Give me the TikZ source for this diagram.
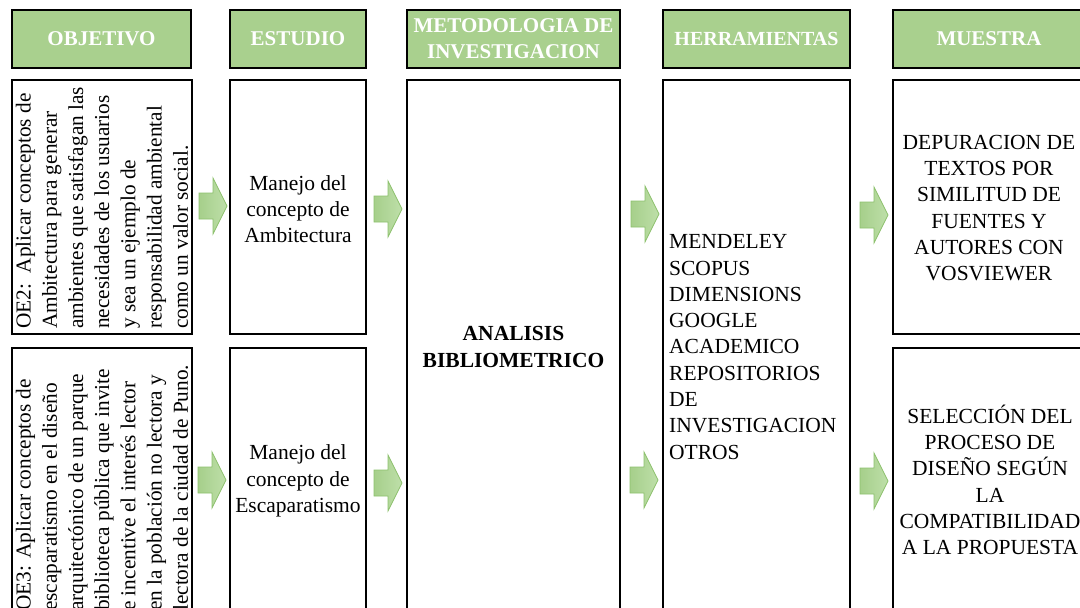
\documentclass[tikz,border=0pt]{standalone}
\usepackage{fontspec}
\setmainfont{Liberation Serif}
\definecolor{hdrgreen}{HTML}{A9D08E}
\definecolor{arleft}{HTML}{A6CF8B}
\definecolor{arright}{HTML}{BEDFA9}
\definecolor{ardraw}{HTML}{8DC16D}
\newcommand\blockarrow[1]{\draw[blockarr] #1 ++(-14,-13) -- ++(14,0) -- ++(0,-15) -- ++(14,28) -- ++(-14,28) -- ++(0,-15) -- ++(-14,0) -- cycle;}
\begin{document}
\begin{tikzpicture}[x=1pt,y=-1pt,
  hdr/.style={draw=black, line width=1.6pt, fill=hdrgreen, text=white, align=center,
    inner sep=0pt, font=\fontsize{21}{26}\selectfont\bfseries},
  cell/.style={draw=black, line width=1.2pt, inner sep=0pt},
  body/.style={align=center, inner sep=0pt, font=\fontsize{21.5}{26.3}\selectfont},
  rot/.style={rotate=90, align=left, inner sep=0pt, anchor=west,
    font=\fontsize{21.3}{26.2}\selectfont},
  blockarr/.style={draw=ardraw, line width=0.8pt, left color=arleft, right color=arright}]
\useasboundingbox (0,0) rectangle (1080,608);
\clip (0,0) rectangle (1080,608);
\fill[white] (0,0) rectangle (1080,608);
% headers
\node[hdr, minimum width=179pt, minimum height=58pt] (h1) at (101.5,39) {OBJETIVO};
\node[hdr, minimum width=136pt, minimum height=58pt] (h2) at (298,39) {ESTUDIO};
\node[hdr, minimum width=213pt, minimum height=58pt] (h3) at (513.5,39) {METODOLOGIA DE\\INVESTIGACION};
\node[hdr, minimum width=187pt, minimum height=58pt, font=\fontsize{20}{25}\selectfont\bfseries] (h4) at (756.5,39) {HERRAMIENTAS};
\node[hdr, minimum width=192pt, minimum height=58pt] (h5) at (989,39) {MUESTRA};
% body cells
\node[cell, minimum width=180pt, minimum height=254pt] (o1) at (102,207) {};
\node[cell, minimum width=180pt, minimum height=266pt] (o2) at (102,481) {};
\node[cell, minimum width=136pt, minimum height=254pt] (e1) at (298,207) {};
\node[cell, minimum width=136pt, minimum height=266pt] (e2) at (298,481) {};
\node[cell, minimum width=213pt, minimum height=534pt] (m) at (513.5,347) {};
\node[cell, minimum width=187pt, minimum height=534pt] (t) at (756.5,347) {};
\node[cell, minimum width=192pt, minimum height=254pt] (s1) at (989,207) {};
\node[cell, minimum width=192pt, minimum height=266pt] (s2) at (989,481) {};
% texts
\node[rot] (o1t) at (102,329) {OE2:\ \ Aplicar conceptos de\\Ambitectura para generar\\ambientes que satisfagan las\\necesidades de los usuarios\\y sea un ejemplo de\\responsabilidad ambiental\\como un valor social.};
\node[rot] (o2t) at (102,611) {OE3: Aplicar conceptos de\\escaparatismo en el diseño\\arquitectónico de un parque\\biblioteca pública que invite\\e incentive el interés lector\\en la población no lectora y\\lectora de la ciudad de Puno.};
\node[body] (e1t) at (298,209) {Manejo del\\concepto de\\Ambitectura};
\node[body] (e2t) at (298,481) {Manejo del\\concepto de\\Escaparatismo};
\node[body, font=\fontsize{21.5}{26.3}\selectfont\bfseries] (mt) at (513.5,347) {ANALISIS\\BIBLIOMETRICO};
\node[body, align=left, anchor=west] (tt) at (669,347) {MENDELEY\\SCOPUS\\DIMENSIONS\\GOOGLE\\ACADEMICO\\REPOSITORIOS\\DE\\INVESTIGACION\\OTROS};
\node[body] (s1t) at (989,208) {DEPURACION DE\\TEXTOS POR\\SIMILITUD DE\\FUENTES Y\\AUTORES CON\\VOSVIEWER};
\node[body] (s2t) at (990,480) {SELECCIÓN DEL\\PROCESO DE\\DISEÑO SEGÚN\\LA\\COMPATIBILIDAD\\A LA PROPUESTA};
% arrows
\blockarrow{(213,206)}
\blockarrow{(388,209)}
\blockarrow{(645,214)}
\blockarrow{(874,215)}
\blockarrow{(212,480)}
\blockarrow{(388,483)}
\blockarrow{(644,480)}
\blockarrow{(874,481)}
\end{tikzpicture}
\end{document}
